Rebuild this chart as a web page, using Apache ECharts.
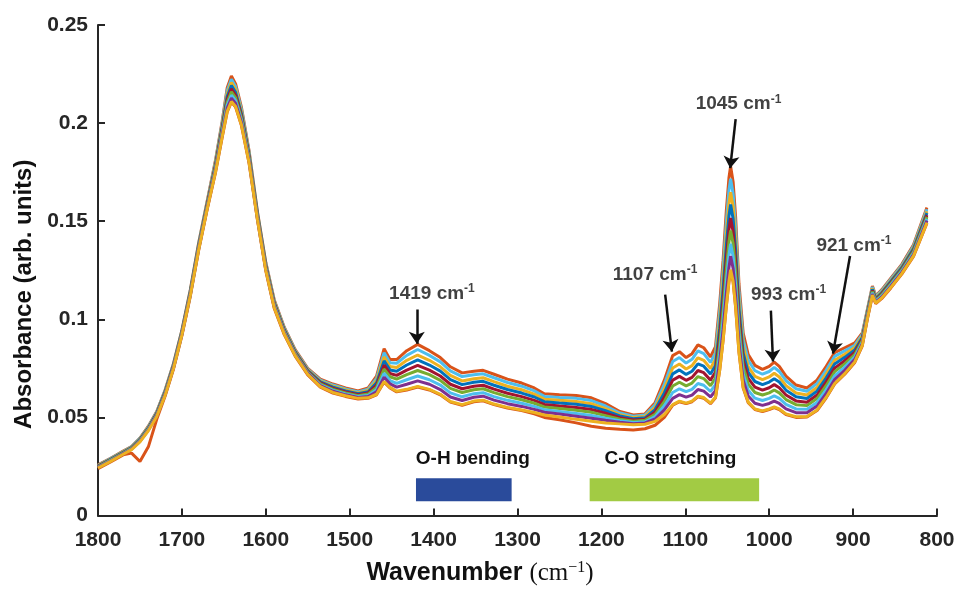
<!DOCTYPE html>
<html>
<head>
<meta charset="utf-8">
<script src="https://cdn.jsdelivr.net/npm/echarts@6/dist/echarts.min.js"></script>
<style>html,body{margin:0;padding:0;background:#fff}#c{width:959px;height:591px}</style>
</head>
<body>
<div id="c"></div>
<script>
// wavenumber grid (cm-1)
const wavenumber = [1800,1785,1770,1760,1750,1740,1730,1720,1710,1700,1690,1680,1670,1660,1652,1646,1641,1636,1629,1620,1610,1600,1590,1578,1565,1550,1535,1520,1505,1490,1478,1468,1459,1452,1444,1432,1419,1405,1392,1380,1366,1352,1341,1328,1312,1295,1280,1268,1250,1230,1212,1195,1178,1162,1148,1136,1125,1115,1107,1099,1092,1085,1078,1070,1064,1059,1055,1051,1048,1046,1043,1040,1036,1031,1025,1017,1008,1000,994,988,980,968,955,943,932,922,910,898,889,883,877,873,866,855,842,828,812];

// spectra read from the bundle (top to bottom)
const spectrum01 = [.0258,.0292,.0328,.0352,.0395,.0455,.0530,.0640,.0775,.0945,.1150,.1390,.1600,.1810,.2010,.2180,.2240,.2200,.2080,.1860,.1550,.1290,.1100,.0960,.0845,.0750,.0695,.0670,.0650,.0635,.0650,.0710,.0850,.0795,.0795,.0840,.0872,.0840,.0805,.0758,.0727,.0735,.0740,.0720,.0695,.0675,.0650,.0620,.0615,.0612,.0600,.0570,.0530,.0512,.0518,.0575,.0690,.0815,.0835,.0805,.0825,.0870,.0855,.0808,.0860,.1080,.1300,.1560,.1720,.1780,.1700,.1520,.1180,.0930,.0820,.0765,.0745,.0760,.0782,.0760,.0710,.0665,.0650,.0690,.0760,.0830,.0855,.0880,.0930,.1050,.1170,.1120,.1150,.1210,.1280,.1380,.1570];
const spectrum02 = [.0256,.0290,.0326,.0350,.0393,.0452,.0527,.0637,.0772,.0942,.1146,.1386,.1595,.1803,.2000,.2166,.2224,.2186,.2069,.1853,.1545,.1285,.1095,.0956,.0841,.0746,.0690,.0665,.0645,.0630,.0644,.0699,.0830,.0778,.0776,.0816,.0846,.0816,.0783,.0737,.0708,.0717,.0722,.0702,.0678,.0659,.0635,.0607,.0601,.0597,.0586,.0558,.0522,.0506,.0512,.0564,.0669,.0785,.0805,.0777,.0796,.0839,.0825,.0780,.0829,.1040,.1251,.1502,.1657,.1717,.1639,.1465,.1138,.0897,.0791,.0738,.0720,.0734,.0755,.0734,.0687,.0646,.0633,.0672,.0741,.0811,.0839,.0868,.0923,.1044,.1164,.1116,.1145,.1204,.1274,.1373,.1561];
const spectrum03 = [.0254,.0288,.0324,.0348,.0390,.0449,.0524,.0633,.0769,.0939,.1142,.1381,.1590,.1795,.1990,.2150,.2207,.2171,.2057,.1845,.1540,.1280,.1090,.0951,.0837,.0742,.0685,.0659,.0640,.0625,.0637,.0687,.0808,.0759,.0754,.0791,.0818,.0791,.0758,.0714,.0686,.0697,.0702,.0682,.0659,.0641,.0619,.0593,.0587,.0581,.0570,.0545,.0514,.0499,.0505,.0551,.0646,.0752,.0772,.0747,.0764,.0804,.0791,.0749,.0796,.0996,.1198,.1438,.1588,.1648,.1573,.1406,.1093,.0861,.0759,.0709,.0692,.0706,.0725,.0706,.0662,.0624,.0614,.0652,.0721,.0791,.0822,.0856,.0914,.1038,.1158,.1111,.1139,.1198,.1268,.1366,.1551];
const spectrum04 = [.0252,.0286,.0322,.0346,.0388,.0446,.0521,.0630,.0766,.0936,.1139,.1377,.1585,.1788,.1980,.2136,.2192,.2157,.2047,.1838,.1535,.1275,.1085,.0947,.0834,.0739,.0681,.0654,.0635,.0621,.0631,.0676,.0788,.0742,.0735,.0767,.0793,.0767,.0736,.0693,.0667,.0679,.0684,.0664,.0642,.0624,.0604,.0580,.0573,.0567,.0556,.0534,.0507,.0493,.0498,.0540,.0625,.0722,.0742,.0719,.0735,.0773,.0761,.0721,.0765,.0955,.1149,.1380,.1525,.1585,.1512,.1351,.1052,.0828,.0730,.0683,.0667,.0680,.0697,.0680,.0639,.0605,.0596,.0634,.0702,.0772,.0806,.0844,.0907,.1033,.1153,.1106,.1134,.1193,.1263,.1359,.1542];
const spectrum05 = [.0250,.0284,.0320,.0344,.0385,.0443,.0517,.0626,.0762,.0932,.1135,.1372,.1580,.1780,.1970,.2120,.2175,.2142,.2035,.1830,.1530,.1270,.1080,.0942,.0830,.0735,.0676,.0648,.0630,.0616,.0625,.0664,.0766,.0724,.0714,.0741,.0765,.0741,.0711,.0669,.0646,.0659,.0664,.0644,.0623,.0606,.0587,.0566,.0558,.0551,.0540,.0521,.0498,.0487,.0491,.0527,.0602,.0690,.0709,.0689,.0704,.0739,.0728,.0690,.0731,.0911,.1096,.1316,.1456,.1516,.1446,.1291,.1006,.0791,.0699,.0654,.0639,.0651,.0667,.0651,.0614,.0584,.0577,.0614,.0681,.0751,.0789,.0831,.0899,.1026,.1146,.1101,.1129,.1186,.1256,.1351,.1531];
const spectrum06 = [.0248,.0282,.0318,.0342,.0383,.0441,.0514,.0623,.0759,.0929,.1131,.1368,.1575,.1773,.1960,.2106,.2159,.2129,.2024,.1823,.1525,.1265,.1075,.0938,.0826,.0731,.0671,.0643,.0625,.0611,.0619,.0653,.0746,.0707,.0695,.0718,.0739,.0718,.0689,.0648,.0627,.0641,.0646,.0626,.0606,.0590,.0572,.0553,.0545,.0536,.0526,.0509,.0491,.0481,.0485,.0516,.0581,.0660,.0679,.0661,.0675,.0708,.0698,.0662,.0701,.0871,.1048,.1258,.1393,.1453,.1386,.1237,.0965,.0758,.0670,.0627,.0614,.0625,.0640,.0625,.0591,.0565,.0560,.0596,.0663,.0733,.0773,.0820,.0892,.1021,.1141,.1097,.1124,.1181,.1251,.1345,.1522];
const spectrum07 = [.0246,.0280,.0316,.0340,.0380,.0438,.0511,.0619,.0756,.0926,.1127,.1364,.1570,.1765,.1950,.2090,.2142,.2114,.2012,.1815,.1520,.1260,.1070,.0934,.0822,.0727,.0666,.0638,.0620,.0606,.0612,.0641,.0725,.0688,.0673,.0692,.0711,.0692,.0665,.0625,.0605,.0621,.0626,.0606,.0587,.0572,.0556,.0539,.0530,.0520,.0510,.0496,.0483,.0474,.0478,.0504,.0559,.0627,.0646,.0631,.0643,.0673,.0664,.0632,.0667,.0827,.0995,.1195,.1325,.1385,.1320,.1177,.0920,.0722,.0638,.0598,.0586,.0597,.0610,.0597,.0566,.0543,.0541,.0576,.0642,.0712,.0756,.0807,.0883,.1015,.1135,.1092,.1118,.1175,.1245,.1337,.1512];
const spectrum08 = [.0244,.0278,.0314,.0338,.0378,.0435,.0508,.0616,.0753,.0923,.1124,.1360,.1565,.1758,.1940,.2076,.2127,.2100,.2002,.1808,.1515,.1255,.1065,.0930,.0819,.0724,.0662,.0633,.0615,.0602,.0606,.0630,.0705,.0671,.0654,.0669,.0686,.0669,.0642,.0604,.0586,.0603,.0608,.0588,.0570,.0556,.0541,.0526,.0517,.0506,.0496,.0485,.0475,.0468,.0472,.0492,.0538,.0597,.0616,.0603,.0614,.0642,.0634,.0604,.0636,.0787,.0946,.1136,.1262,.1322,.1259,.1122,.0878,.0689,.0609,.0572,.0561,.0571,.0583,.0571,.0543,.0524,.0524,.0558,.0623,.0693,.0740,.0796,.0876,.1009,.1129,.1088,.1113,.1169,.1239,.1330,.1503];
const spectrum09 = [.0242,.0276,.0312,.0336,.0375,.0432,.0505,.0612,.0750,.0920,.1120,.1355,.1560,.1750,.1930,.2060,.2110,.2085,.1990,.1800,.1510,.1250,.1060,.0925,.0815,.0720,.0657,.0627,.0610,.0597,.0600,.0618,.0683,.0653,.0633,.0643,.0658,.0643,.0618,.0581,.0565,.0583,.0588,.0568,.0551,.0538,.0525,.0512,.0502,.0490,.0480,.0472,.0467,.0462,.0465,.0480,.0515,.0565,.0583,.0573,.0583,.0608,.0601,.0573,.0603,.0743,.0893,.1073,.1193,.1253,.1193,.1063,.0833,.0653,.0578,.0543,.0533,.0543,.0553,.0543,.0518,.0503,.0505,.0538,.0603,.0673,.0723,.0783,.0868,.1003,.1123,.1083,.1108,.1163,.1233,.1323,.1493];
const spectrum10 = [.0239,.0273,.0309,.0318,.0275,.0350,.0490,.0609,.0747,.0917,.1117,.1352,.1557,.1747,.1927,.2057,.2107,.2082,.1987,.1797,.1507,.1247,.1057,.0922,.0812,.0717,.0654,.0624,.0607,.0594,.0597,.0615,.0680,.0650,.0630,.0640,.0655,.0640,.0615,.0578,.0562,.0580,.0585,.0565,.0548,.0535,.0518,.0500,.0488,.0472,.0455,.0445,.0440,.0436,.0442,.0460,.0500,.0562,.0580,.0570,.0580,.0605,.0598,.0570,.0600,.0740,.0890,.1070,.1190,.1250,.1190,.1060,.0830,.0650,.0575,.0540,.0530,.0540,.0550,.0540,.0515,.0500,.0502,.0535,.0600,.0670,.0720,.0780,.0865,.1000,.1120,.1080,.1105,.1160,.1230,.1320,.1490];

const spectra = [spectrum01, spectrum10, spectrum02, spectrum03, spectrum04, spectrum05, spectrum06, spectrum07, spectrum08, spectrum09];
const lineColors = ['#D95319', '#D95319', '#4DBEEE', '#EDB120', '#0072BD', '#A2142F', '#77AC30', '#4DBEEE', '#7E2F8E', '#EDB120'];

// peak annotations
const peakNames = ['1419', '1107', '1045', '993', '921'];
const peakTip = [[1420, 0.0875], [1116, 0.0835], [1046.5, 0.1770], [995.5, 0.0785], [924, 0.0825]];
const arrowTail = [[1420, 0.105], [1124, 0.1126], [1040, 0.202], [998, 0.1044], [903.7, 0.1323]];
const labelAt = [[1402, 0.1130], [1136, 0.1227], [1036.6, 0.2096], [977, 0.1126], [899, 0.1373]];

// assignment bands
const bandNames = ['O-H bending', 'C-O stretching'];
const bandRange = [[1421, 1307], [1214, 1012]];
const bandY = [0.0072, 0.019];
const bandColors = ['#2A4B9B', '#A2CB44'];

const yTicks = [0, 0.05, 0.1, 0.15, 0.2, 0.25];

const chart = echarts.init(document.getElementById('c'), null, {renderer: 'canvas'});
const sans = 'Liberation Sans, Arial, sans-serif';
const serif = 'Liberation Serif, Times New Roman, serif';

const series = spectra.map((arr, k) => ({
  type: 'line',
  data: wavenumber.map((w, i) => [w, arr[i]]),
  showSymbol: false,
  symbol: 'none',
  silent: true,
  lineStyle: {width: 3, color: lineColors[k]},
  z: 2
}));

series.push({
  type: 'scatter',
  data: labelAt.map((p, i) => ({value: p, name: peakNames[i]})),
  symbolSize: 0,
  silent: true,
  z: 10,
  label: {
    show: true,
    position: 'inside',
    formatter: p => '{n|' + p.name + ' cm}{s|-1}',
    rich: {
      n: {fontSize: 19, fontWeight: 'bold', fontFamily: sans, color: '#111', lineHeight: 22},
      s: {fontSize: 12, fontWeight: 'bold', fontFamily: sans, color: '#111', verticalAlign: 'top', lineHeight: 13}
    }
  },
  markLine: {
    silent: true,
    symbol: ['none', 'arrow'],
    symbolSize: 12,
    label: {show: false},
    lineStyle: {type: 'solid', width: 2.5, color: '#111'},
    data: peakTip.map((t, i) => [{coord: arrowTail[i]}, {coord: t}])
  },
  markArea: {
    silent: true,
    label: {
      show: true,
      position: 'top',
      distance: 10,
      fontSize: 19,
      fontWeight: 'bold',
      fontFamily: sans,
      color: '#111'
    },
    data: bandRange.map((r, i) => [
      {coord: [r[0], bandY[0]], name: bandNames[i], itemStyle: {color: bandColors[i]}, label: {offset: [i === 0 ? 9 : -4, 0]}},
      {coord: [r[1], bandY[1]]}
    ])
  }
});

chart.setOption({
  animation: false,
  backgroundColor: '#fff',
  grid: {left: 98, right: 22, top: 25, bottom: 72},
  xAxis: {
    type: 'value', min: 800, max: 1800, interval: 100, inverse: true,
    axisLine: {lineStyle: {color: '#262626', width: 2}},
    axisTick: {inside: true, length: 7, lineStyle: {color: '#262626', width: 2}},
    splitLine: {show: false},
    axisLabel: {margin: 14, fontSize: 21, fontWeight: 'bold', fontFamily: sans, color: '#262626', formatter: v => String(v)},
    name: '{a|Wavenumber }{b|(cm}{c|−1}{b|)}',
    nameLocation: 'middle',
    nameGap: 44,
    nameTextStyle: {
      padding: [0, 75, 0, 0],
      rich: {
        a: {fontSize: 25, fontWeight: 'bold', fontFamily: sans, color: '#111', lineHeight: 28},
        b: {fontSize: 25, fontFamily: serif, color: '#111', lineHeight: 28},
        c: {fontSize: 16, fontFamily: serif, color: '#111', verticalAlign: 'top', lineHeight: 16}
      }
    }
  },
  yAxis: {
    type: 'value', min: 0, max: 0.25, interval: 0.05,
    axisLine: {show: true, lineStyle: {color: '#262626', width: 2}},
    axisTick: {show: true, inside: true, length: 7, lineStyle: {color: '#262626', width: 2}},
    splitLine: {show: false},
    axisLabel: {margin: 10, fontSize: 21, fontWeight: 'bold', fontFamily: sans, color: '#262626',
      formatter: v => { const t = yTicks.find(y => Math.abs(y - v) < 1e-9); return String(t !== undefined ? t : v); }},
    name: 'Absorbance (arb. units)',
    nameLocation: 'middle',
    nameGap: 62,
    nameTextStyle: {fontSize: 24, fontWeight: 'bold', fontFamily: sans, color: '#111', padding: [0, 48, 0, 0]}
  },
  series: series
});
</script>
</body>
</html>
